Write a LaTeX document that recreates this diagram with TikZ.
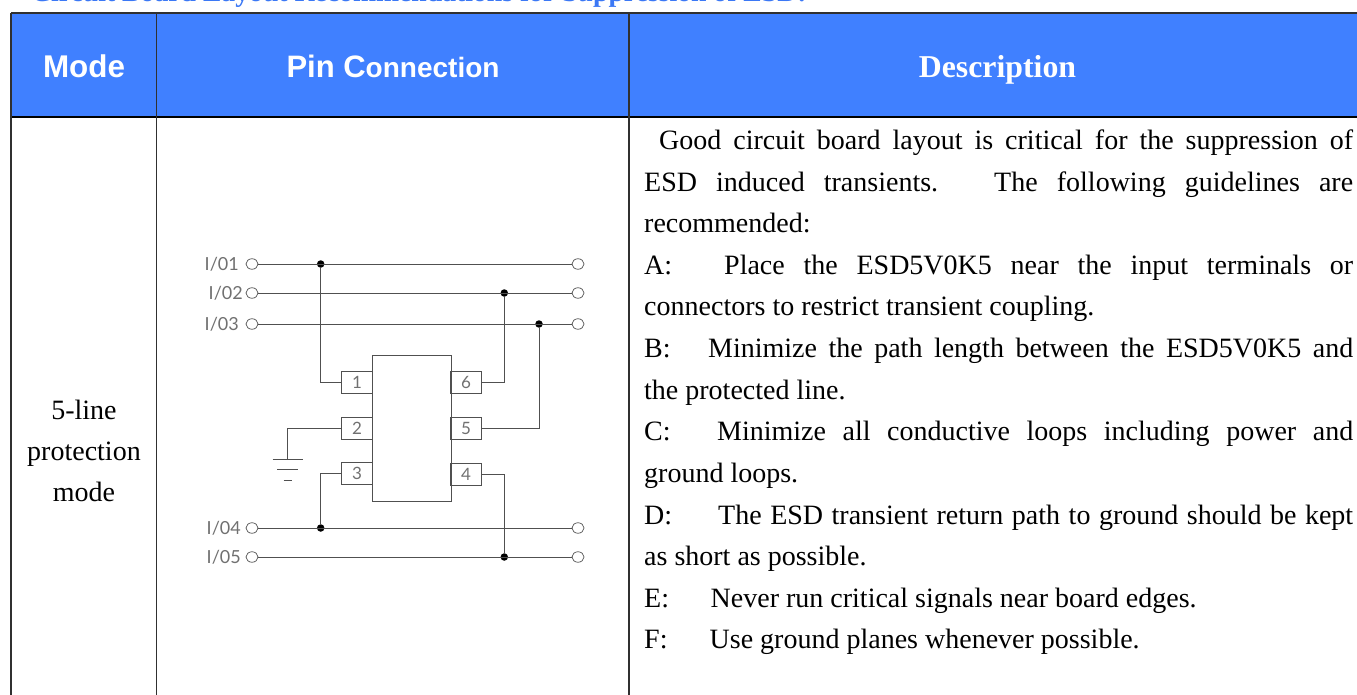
\documentclass[tikz,border=0pt]{standalone}
\usepackage{fontspec}
\setmainfont{Liberation Serif}
\newfontfamily\hdsans{Liberation Sans}
\newfontfamily\cadfont{Lato}
\usetikzlibrary{shapes.geometric}
\definecolor{hdblue}{HTML}{4080FF}
\definecolor{wire}{HTML}{505050}
\definecolor{cadtext}{HTML}{707070}
\definecolor{titleblue}{HTML}{3B78F5}
\definecolor{gridcol}{HTML}{303030}
\tikzset{
  x=1pt,y=-1pt,
  gridline/.style={draw=gridcol,line width=1.2pt},
  bodyline/.style={anchor=base west,inner sep=0pt,font=\fontsize{28}{32}\selectfont,text=black},
  modeline/.style={anchor=base,inner sep=0pt,font=\fontsize{28}{32}\selectfont},
  term/.style={ellipse,draw=wire,line width=.7pt,minimum width=12pt,minimum height=10.5pt,inner sep=0pt,fill=white},
  pinbox/.style={rectangle,draw=wire,line width=.8pt,minimum width=30.5pt,minimum height=22pt,inner sep=0pt,text=cadtext,font=\cadfont\fontsize{17}{17}\selectfont},
  icbody/.style={rectangle,draw=wire,line width=.9pt,minimum width=78.5pt,minimum height=145.5pt,inner sep=0pt},
  wireline/.style={draw=wire,line width=.9pt},
  junction/.style={circle,fill=black,minimum size=7.5pt,inner sep=0pt},
  cadlabel/.style={anchor=east,inner sep=0pt,text=cadtext,font=\cadfont\fontsize{18}{18}\selectfont},
}
\begin{document}
\begin{tikzpicture}
\useasboundingbox (0,0) rectangle (1357,695);
\clip (0,0) rectangle (1357,695);
\node[anchor=base west,inner sep=0pt,text=titleblue,font=\bfseries\fontsize{27.7}{32}\selectfont] (title) at (31,1.5) {Circuit Board Layout Recommendations for Suppression of ESD:};
% header cells
\path[fill=hdblue] (11,13) rectangle (1357,117);
\node[anchor=base,inner sep=0pt,text=white,font=\hdsans\bfseries\fontsize{31.4}{36}\selectfont] (hmode) at (84,77.3) {Mode};
\node[anchor=base,inner sep=0pt,text=white,font=\hdsans\bfseries] (hpin) at (393,77.3) {\fontsize{31}{36}\selectfont Pin C\fontsize{28}{36}\selectfont onnection};
\node[anchor=base,inner sep=0pt,text=white,font=\bfseries\fontsize{31.8}{36}\selectfont] (hdesc) at (997.5,77.3) {Description};
% grid
\draw[gridline] (11,13) -- (1357,13);
\draw[draw=black,line width=1.4pt] (11,117) -- (1357,117);
\draw[gridline] (11,13) -- (11,695);
\draw[gridline] (156.5,13) -- (156.5,695);
\draw[gridline] (629,13) -- (629,695);
% mode cell
\node[modeline] (m1) at (84,419) {5-line};
\node[modeline] (m2) at (84,460.5) {protection};
\node[modeline] (m3) at (84,501.5) {mode};
% description
\node[bodyline] (d1) at (659,149.6) {\makebox[694pt][s]{Good circuit board layout is critical for the suppression of}};
\node[bodyline] (d2) at (644,191.2) {\makebox[294pt][s]{ESD induced transients.}\hspace{56pt}\makebox[359pt][s]{The following guidelines are}};
\node[bodyline] (d3) at (644,232.7) {recommended:};
\node[bodyline] (d4) at (644,274.2) {\makebox[80pt][l]{A:}\makebox[629pt][s]{Place the ESD5V0K5 near the input terminals or}};
\node[bodyline] (d5) at (644,315.7) {connectors to restrict transient coupling.};
\node[bodyline] (d6) at (644,357.5) {\makebox[64pt][l]{B:}\makebox[645pt][s]{Minimize the path length between the ESD5V0K5 and}};
\node[bodyline] (d7) at (644,399) {the protected line.};
\node[bodyline] (d8) at (644,440.5) {\makebox[73pt][l]{C:}\makebox[636pt][s]{Minimize all conductive loops including power and}};
\node[bodyline] (d9) at (644,482) {ground loops.};
\node[bodyline] (d10) at (644,524) {\makebox[74pt][l]{D:}\makebox[635pt][s]{The ESD transient return path to ground should be kept}};
\node[bodyline] (d11) at (644,565.5) {as short as possible.};
\node[bodyline] (d12) at (644,607) {\makebox[66.5pt][l]{E:}Never run critical signals near board edges.};
\node[bodyline] (d13) at (644,648.5) {\makebox[65.5pt][l]{F:}Use ground planes whenever possible.};
% circuit: terminals
\node[term] (l1) at (252,264) {}; \node[term] (r1) at (578,264) {};
\node[term] (l2) at (252,293) {}; \node[term] (r2) at (578,293) {};
\node[term] (l3) at (252,324) {}; \node[term] (r3) at (578,324) {};
\node[term] (l4) at (252,528) {}; \node[term] (r4) at (578,528) {};
\node[term] (l5) at (252,557) {}; \node[term] (r5) at (578,557) {};
\node[cadlabel] (t1) at (239,264) {I/01};
\node[cadlabel] (t2) at (243,293) {I/02};
\node[cadlabel] (t3) at (239,324) {I/03};
\node[cadlabel] (t4) at (241,528) {I/04};
\node[cadlabel] (t5) at (241,557) {I/05};
% IC
\node[icbody] (ic) at (412,428.3) {};
\node[pinbox] (p1) at (357,382.7) {1};
\node[pinbox] (p2) at (357,428.2) {2};
\node[pinbox] (p3) at (357,473.3) {3};
\node[pinbox] (p6) at (466,382.3) {6};
\node[pinbox] (p5) at (466,428.2) {5};
\node[pinbox] (p4) at (466,474.3) {4};
% junctions
\node[junction] (j1) at (320.7,264) {};
\node[junction] (j2) at (504.3,293) {};
\node[junction] (j3) at (539,324) {};
\node[junction] (j4) at (320.7,528) {};
\node[junction] (j5) at (504.3,557) {};
% wires
\draw[wireline] (l1) -- (r1);
\draw[wireline] (l2) -- (r2);
\draw[wireline] (l3) -- (r3);
\draw[wireline] (l4) -- (r4);
\draw[wireline] (l5) -- (r5);
\draw[wireline] (p1.west) -| (j1);
\draw[wireline] (p3.west) -| (j4);
\draw[wireline] (p6.east) -| (j2);
\draw[wireline] (p5.east) -| (j3);
\draw[wireline] (p4.east) -| (j5);
% ground
\coordinate (g0) at (287,459.3);
\draw[wireline] (p2.west) -| (g0);
\coordinate (g1a) at (272.7,459.3); \coordinate (g1b) at (303.3,459.3);
\coordinate (g2a) at (277,469.5); \coordinate (g2b) at (297.5,469.5);
\coordinate (g3a) at (283.5,480); \coordinate (g3b) at (292,480);
\draw[wireline] (g1a) -- (g1b);
\draw[wireline] (g2a) -- (g2b);
\draw[wireline] (g3a) -- (g3b);
\end{tikzpicture}
\end{document}
